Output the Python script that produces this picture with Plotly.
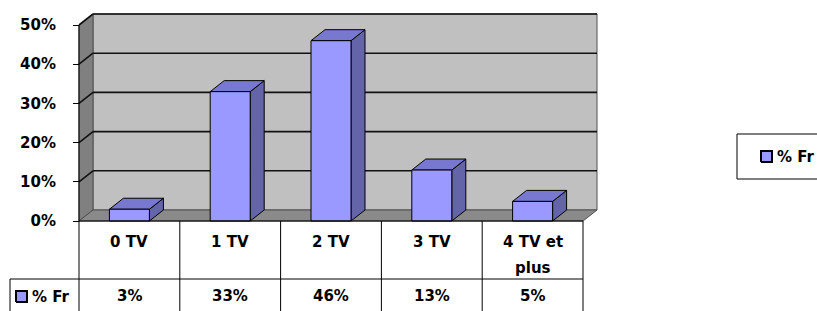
import plotly.graph_objects as go

# ---- data ----
categories = ["0 TV", "1 TV", "2 TV", "3 TV", "4 TV et\nplus"]
values = [3, 33, 46, 13, 5]
value_labels = ["3%", "33%", "46%", "13%", "5%"]
series_name = "% Fr"
y_ticks = [0, 10, 20, 30, 40, 50]

# ---- geometry (pixel mapping helpers) ----
W, H = 817, 311
AX_PX = 79          # front-left edge of the plot (y axis)
PX_PER_CAT = 100.8
PX_PER_PCT = 3.92
Y0_PX = 221


def X(px):
    return -0.5 + (px - AX_PX) / PX_PER_CAT


def Y(py):
    return (Y0_PX - py) / PX_PER_PCT


DX = 14 / PX_PER_CAT
DY = 11 / PX_PER_PCT
BW = 40 / PX_PER_CAT
n = len(categories)
xl, xr = -0.5, n - 0.5
ytop = max(y_ticks)

FRONT = "#9999FF"
TOP = "#7878D0"
SIDE = "#6464A8"
BACKWALL = "#C0C0C0"
SIDEWALL = "#808080"
FLOOR = "#8A8A8A"
FONT = "DejaVu Sans"

fig = go.Figure()


def poly(xs, ys, fill, line="black", width=1):
    fig.add_trace(go.Scatter(
        x=list(xs) + [xs[0]], y=list(ys) + [ys[0]], mode="lines",
        fill="toself", fillcolor=fill,
        line=dict(color=line, width=width),
        hoverinfo="skip", showlegend=False))


def seg(xs, ys, color="black", width=1.5):
    fig.add_trace(go.Scatter(x=xs, y=ys, mode="lines",
                             line=dict(color=color, width=width),
                             hoverinfo="skip", showlegend=False))


# walls & floor
poly([xl + DX, xr + DX, xr + DX, xl + DX], [DY, DY, ytop + DY, ytop + DY], BACKWALL, "#505050", 1)
poly([xl, xl + DX, xl + DX, xl], [0, DY, ytop + DY, ytop], SIDEWALL, "#505050", 1)
poly([xl, xr, xr + DX, xl + DX], [0, 0, DY, DY], FLOOR, "#505050", 1)

# gridlines on back wall and side wall
for g in y_ticks[1:]:
    seg([xl + DX, xr + DX], [g + DY, g + DY], "#111111", 1.6)
    seg([xl, xl + DX], [g, g + DY], "#111111", 1.6)

# 3D bars
for i, v in enumerate(values):
    a, b = i - BW / 2, i + BW / 2
    poly([b, b + DX, b + DX, b], [0, DY, v + DY, v], SIDE)
    poly([a, b, b + DX, a + DX], [v, v, v + DY, v + DY], TOP)
    poly([a, b, b, a], [0, 0, v, v], FRONT)

# front floor edge
seg([xl, xr], [0, 0], "black", 1)

# ---- data table lines ----
ybot = Y(H + 5)
for k in range(n + 1):
    seg([xl + k, xl + k], [0, ybot], "black", 1)
seg([X(10), xr], [Y(279), Y(279)], "black", 1)
seg([X(10), X(10)], [Y(279), ybot], "black", 1)
seg([xl, xl], [0, ytop], "black", 1)

annotations = []
bold = dict(family=FONT, size=15, color="black", weight="bold")
for i, c in enumerate(categories):
    lines = c.split("\n")
    for j, ln in enumerate(lines):
        annotations.append(dict(x=i, y=Y(242 + 26 * j), text=ln, showarrow=False,
                                xanchor="center", yanchor="middle", font=bold))
    annotations.append(dict(x=i, y=Y(296), text=value_labels[i], showarrow=False,
                            xanchor="center", yanchor="middle", font=bold))

# legend key in table
poly([X(16), X(27), X(27), X(16)], [Y(302), Y(302), Y(291), Y(291)], FRONT, "black", 2)
annotations.append(dict(x=X(30), y=Y(297), text=series_name, showarrow=False,
                        xanchor="left", yanchor="middle", font=bold))

# legend box on the right
poly([X(737), X(830), X(830), X(737)], [Y(179), Y(179), Y(134), Y(134)], "white", "black", 1)
poly([X(761), X(772), X(772), X(761)], [Y(162), Y(162), Y(151), Y(151)], FRONT, "black", 2)
annotations.append(dict(x=X(775), y=Y(157), text=series_name, showarrow=False,
                        xanchor="left", yanchor="middle", font=bold))

fig.update_layout(
    width=W, height=H,
    margin=dict(l=0, r=0, t=0, b=0, pad=0),
    paper_bgcolor="white", plot_bgcolor="white",
    showlegend=False,
    annotations=annotations,
    xaxis=dict(range=[X(0), X(W)], visible=False, domain=[0, 1], fixedrange=True),
    yaxis=dict(range=[Y(H), Y(0)], anchor="free", position=AX_PX / W,
               tickvals=y_ticks, ticktext=[f"{t}%" for t in y_ticks],
               ticks="outside", ticklen=6, tickcolor="black", tickwidth=1,
               ticklabelstandoff=14,
               showgrid=False, zeroline=False, showline=False,
               tickfont=bold, fixedrange=True),
)

fig.write_html("out.html", config={"displayModeBar": False},
               post_script="document.body.style.margin='0px';")
